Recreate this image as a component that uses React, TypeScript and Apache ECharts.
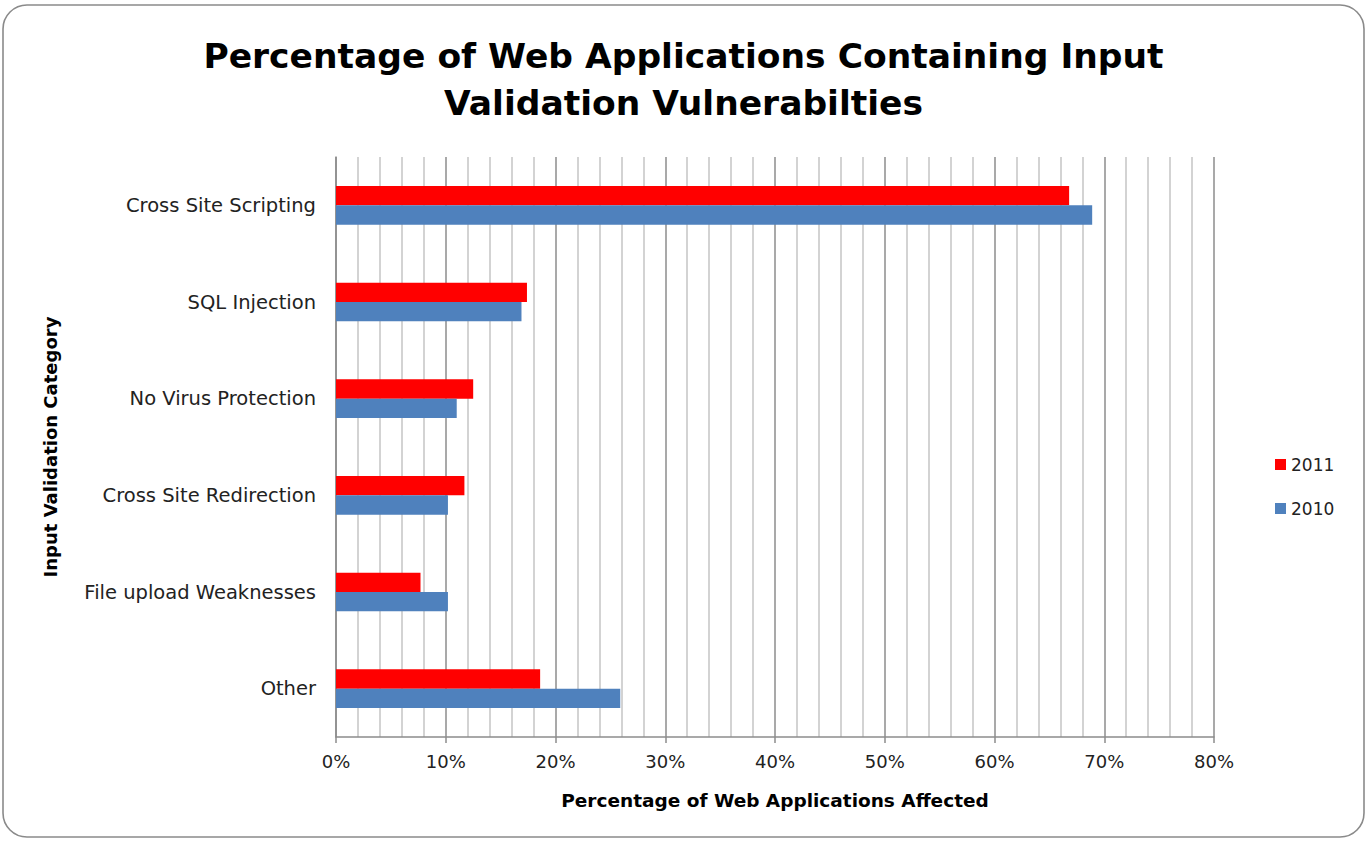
import React, { useEffect, useRef } from "react";
import * as echarts from "echarts";

const categories = [
  "Cross Site Scripting",
  "SQL Injection",
  "No Virus Protection",
  "Cross Site Redirection",
  "File upload Weaknesses",
  "Other",
];
const values2011 = [66.8, 17.4, 12.5, 11.7, 7.7, 18.6];
const values2010 = [68.9, 16.9, 11.0, 10.2, 10.2, 25.9];
const seriesNames = ["2011", "2010"];
const titleText = "Percentage of Web Applications Containing Input\nValidation Vulnerabilties";
const xAxisName = "Percentage of Web Applications Affected";
const yAxisName = "Input Validation Category";

const FONT = "'DejaVu Sans', sans-serif";

export default function App() {
  const ref = useRef<HTMLDivElement>(null);
  useEffect(() => {
    document.body.style.margin = "0";
    const chart = echarts.init(ref.current!, null, { renderer: "svg" });
    chart.setOption({
      animation: false,
      backgroundColor: "#ffffff",
      graphic: [
        {
          type: "rect",
          shape: { x: 3, y: 5, width: 1361, height: 832, r: 24 },
          style: { fill: "none", stroke: "#8a8a8a", lineWidth: 1.6 },
          z: -1,
        },
      ],
      title: {
        text: titleText,
        left: "center",
        top: 27,
        textStyle: {
          fontFamily: FONT,
          fontWeight: "bold",
          fontSize: 34.5,
          lineHeight: 47,
          color: "#000",
        },
      },
      legend: {
        orient: "vertical",
        left: 1270,
        top: 451,
        icon: "rect",
        itemWidth: 11,
        itemHeight: 11,
        itemGap: 27,
        data: seriesNames,
        textStyle: { fontFamily: FONT, fontSize: 17, color: "#222" },
      },
      grid: { left: 336, right: 153, top: 157, bottom: 104, containLabel: false },
      xAxis: {
        type: "value",
        min: 0,
        max: 80,
        interval: 10,
        name: xAxisName,
        nameLocation: "middle",
        nameGap: 54,
        nameTextStyle: { fontFamily: FONT, fontWeight: "bold", fontSize: 18.5, color: "#000" },
        axisLine: { show: true, lineStyle: { color: "#8c8c8c", width: 1.5 } },
        axisTick: { show: true, length: 6, lineStyle: { color: "#8c8c8c", width: 1.5 } },
        minorTick: { show: false, splitNumber: 5 },
        axisLabel: {
          formatter: "{value}%",
          fontFamily: FONT,
          fontSize: 18,
          color: "#222",
          margin: 15,
        },
        splitLine: { show: true, lineStyle: { color: "#8c8c8c", width: 1.5 } },
        minorSplitLine: { show: true, lineStyle: { color: "#c4c4c4", width: 1.5 } },
      },
      yAxis: {
        type: "category",
        inverse: true,
        data: categories,
        name: yAxisName,
        nameLocation: "middle",
        nameGap: 277,
        nameRotate: 90,
        nameTextStyle: { fontFamily: FONT, fontWeight: "bold", fontSize: 18, color: "#000" },
        axisLine: { show: true, lineStyle: { color: "#8c8c8c", width: 1.5 } },
        axisTick: { show: false },
        axisLabel: { fontFamily: FONT, fontSize: 19.5, color: "#222", margin: 20 },
      },
      series: [
        {
          name: seriesNames[0],
          type: "bar",
          data: values2011,
          itemStyle: { color: "#ff0000" },
          barGap: "0%",
          barCategoryGap: "60%",
        },
        {
          name: seriesNames[1],
          type: "bar",
          data: values2010,
          itemStyle: { color: "#4f81bd" },
          barGap: "0%",
          barCategoryGap: "60%",
        },
      ],
    });
    return () => chart.dispose();
  }, []);
  return <div ref={ref} style={{ width: 1367, height: 841 }} />;
}
